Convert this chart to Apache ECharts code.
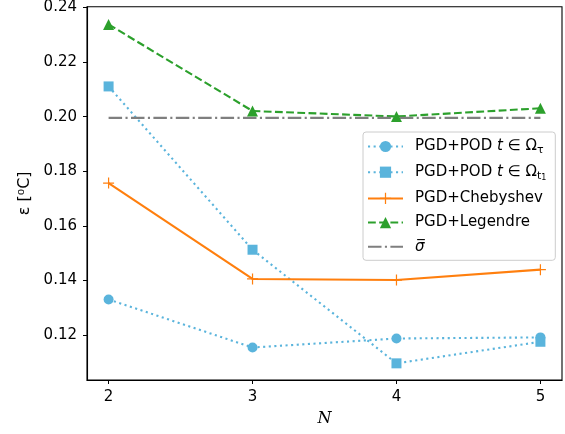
<!DOCTYPE html>
<html><head><meta charset="utf-8">
<script src="https://cdn.jsdelivr.net/npm/echarts@6/dist/echarts.min.js"></script>
<style>html,body{margin:0;padding:0;background:#fff}#c{width:565px;height:434px}</style>
</head><body><div id="c"></div>
<script>
const nValues = [2, 3, 4, 5];
const podTau = [0.1331, 0.1155, 0.1188, 0.1192];
const podT1 = [0.2111, 0.1513, 0.1097, 0.1176];
const chebyshev = [0.1757, 0.1406, 0.1402, 0.1440];
const legendre = [0.2338, 0.2021, 0.2001, 0.2031];
const sigmaBar = [0.1996, 0.1996, 0.1996, 0.1996];
const xTicks = [2, 3, 4, 5];
const yTicks = [0.12, 0.14, 0.16, 0.18, 0.20, 0.22, 0.24];

const FONT = 'DejaVu Sans';
const BLUE = '#5ab4dc', ORANGE = '#ff7f0e', GREEN = '#2ca02c', GRAY = '#7f7f7f';
const pair = arr => nValues.map((x, i) => [x, arr[i]]);
const plusPath = 'path://M4.45,0H5.55V4.45H10V5.55H5.55V10H4.45V5.55H0V4.45H4.45Z';

const names = {
  'tau': 'PGD+POD {i|t} ∈ Ω{sub|τ}',
  't1': 'PGD+POD {i|t} ∈ Ω{sub|t}{subsub|1}',
  'cheb': 'PGD+Chebyshev',
  'leg': 'PGD+Legendre',
  'sig': '{i|σ\u0305}'
};
const LW = 2.1;

const chart = echarts.init(document.getElementById('c'), null, {renderer: 'canvas'});
chart.setOption({
  animation: false,
  textStyle: {fontFamily: FONT},
  grid: {left: 87, right: 3, top: 5, bottom: 54, show: true, borderColor: '#000', borderWidth: 1.1, backgroundColor: 'transparent'},
  xAxis: {
    type: 'value', min: 1.85, max: 5.15,
    name: 'N', nameLocation: 'middle', nameGap: 31,
    nameTextStyle: {fontFamily: 'DejaVu Serif', fontStyle: 'italic', fontSize: 16, color: '#000'},
    axisLine: {show: true, lineStyle: {color: '#000', width: 1.1}},
    axisTick: {show: true, inside: false, length: 4, lineStyle: {color: '#000'}, customValues: xTicks},
    axisLabel: {color: '#000', fontSize: 15, fontFamily: FONT, margin: 10, customValues: xTicks},
    splitLine: {show: false}
  },
  yAxis: {
    type: 'value', min: 0.1036, max: 0.2403,
    name: 'ε [⁰C]', nameLocation: 'middle', nameGap: 53, nameRotate: 90,
    nameTextStyle: {fontSize: 16, color: '#000', fontFamily: FONT},
    axisLine: {show: true, lineStyle: {color: '#000', width: 1.1}},
    axisTick: {show: true, inside: false, length: 4, lineStyle: {color: '#000'}, customValues: yTicks},
    axisLabel: {color: '#000', fontSize: 15, fontFamily: FONT, margin: 10, customValues: yTicks,
      formatter: v => v.toFixed(2)},
    splitLine: {show: false}
  },
  legend: {
    orient: 'vertical', left: 363, top: 132,
    backgroundColor: 'rgba(255,255,255,0.85)', borderColor: '#cccccc', borderWidth: 1, borderRadius: 3,
    padding: [7, 9, 6, 4], itemWidth: 35, itemHeight: 14, itemGap: 9.2,
    data: [{name: 'tau'}, {name: 't1'}, {name: 'cheb'}, {name: 'leg'}, {name: 'sig', itemStyle: {opacity: 0}}],
    formatter: n => names[n],
    textStyle: {fontSize: 15, color: '#000', fontFamily: FONT, padding: [0, 0, 0, 7],
      rich: {
        i: {fontStyle: 'italic', fontSize: 15, fontFamily: FONT},
        sub: {fontSize: 11, fontFamily: FONT, padding: [7, 0, 0, 0]},
        subsub: {fontSize: 8, fontFamily: FONT, padding: [11, 0, 0, 0]}
      }}
  },
  series: [
    {name: 'tau', type: 'line', data: pair(podTau), symbol: 'circle', symbolSize: 10,
     itemStyle: {color: BLUE}, lineStyle: {color: BLUE, width: LW, type: [2.1, 3.5]}},
    {name: 't1', type: 'line', data: pair(podT1), symbol: 'rect', symbolSize: 10,
     itemStyle: {color: BLUE}, lineStyle: {color: BLUE, width: LW, type: [2.1, 3.5]}},
    {name: 'cheb', type: 'line', data: pair(chebyshev), symbol: plusPath, symbolSize: 11,
     itemStyle: {color: ORANGE}, lineStyle: {color: ORANGE, width: LW, type: 'solid'}},
    {name: 'leg', type: 'line', data: pair(legendre), symbol: 'triangle', symbolSize: 11,
     itemStyle: {color: GREEN}, lineStyle: {color: GREEN, width: LW, type: [7.8, 3.4]}},
    {name: 'sig', type: 'line', data: pair(sigmaBar), symbol: 'none', showSymbol: false,
     itemStyle: {color: GRAY}, lineStyle: {color: GRAY, width: LW, type: [13.5, 3.4, 2.1, 3.4]}}
  ]
});
</script></body></html>
